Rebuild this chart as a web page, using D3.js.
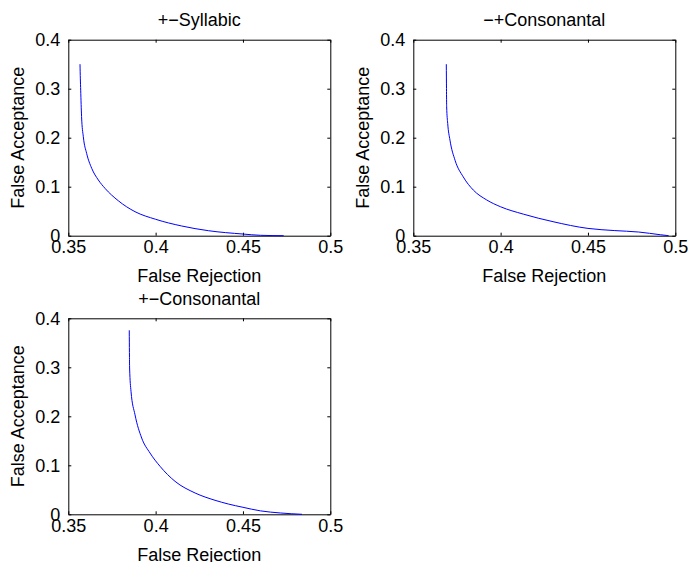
<!DOCTYPE html>
<html>
<head>
<meta charset="utf-8">
<script src="https://cdn.jsdelivr.net/npm/d3@7"></script>
<style>
  body { margin: 0; background: #fff; }
  text { font-family: "Liberation Sans", Arial, sans-serif; }
</style>
</head>
<body>
<div id="svg-area"></div>
<script>
// chart data
var xTicks = [0.35, 0.4, 0.45, 0.5];
var yTicks = [0, 0.1, 0.2, 0.3, 0.4];

var titles = ["+\u2212Syllabic", "\u2212+Consonantal", "+\u2212Consonantal"];

var syllabicFR = [0.3567, 0.3569, 0.3571, 0.3576, 0.3586, 0.3605, 0.3634, 0.3672, 0.3710, 0.3786, 0.3882, 0.4000, 0.4149, 0.4302, 0.4500, 0.4600, 0.4733];
var syllabicFA = [0.350, 0.320, 0.297, 0.243, 0.202, 0.168, 0.1375, 0.1137, 0.0967, 0.0714, 0.049, 0.0335, 0.0198, 0.0102, 0.0034, 0.0008, 0.0];

var consMinusFR = [0.3689, 0.3690, 0.3691, 0.3697, 0.3710, 0.3739, 0.3786, 0.3844, 0.3920, 0.4000, 0.4130, 0.4300, 0.4500, 0.4650, 0.4790, 0.4914, 0.4962];
var consMinusFA = [0.350, 0.300, 0.263, 0.229, 0.195, 0.154, 0.120, 0.093, 0.073, 0.059, 0.044, 0.0286, 0.0149, 0.0105, 0.0075, 0.002, 0.0];

var consPlusFR = [0.3849, 0.3850, 0.3851, 0.3859, 0.3882, 0.3920, 0.3968, 0.4025, 0.4111, 0.4226, 0.4340, 0.4416, 0.4500, 0.4600, 0.4714, 0.4838];
var consPlusFA = [0.3755, 0.330, 0.2986, 0.251, 0.203, 0.1557, 0.125, 0.098, 0.0673, 0.0435, 0.0286, 0.021, 0.0143, 0.007, 0.0027, 0.0];

var series = [
  { fr: syllabicFR, fa: syllabicFA },
  { fr: consMinusFR, fa: consMinusFA },
  { fr: consPlusFR, fa: consPlusFA }
];

// layout of the subplots
var svgWidth = 689;
var svgHeight = 562;
var width = 262;
var height = 196;
var offsets = [[68.3, 39.7], [413.3, 39.7], [68.3, 318.3]];

var svg = d3.select("#svg-area")
  .append("svg")
  .attr("width", svgWidth)
  .attr("height", svgHeight);

var xScale = d3.scaleLinear().domain([0.35, 0.5]).range([0, width]);
var yScale = d3.scaleLinear().domain([0, 0.4]).range([height, 0]);

var line = d3.line()
  .curve(d3.curveMonotoneX)
  .x(d => xScale(d[0]))
  .y(d => yScale(d[1]));

series.forEach(function(s, i) {
  var g = svg.append("g")
    .attr("transform", `translate(${offsets[i][0]}, ${offsets[i][1]})`);

  // Step 1: axes, ticks pointing inward on all four sides
  g.append("g")
    .attr("transform", `translate(0, ${height})`)
    .call(d3.axisBottom(xScale).tickValues(xTicks).tickSize(-3).tickSizeOuter(0).tickPadding(4.5).tickFormat(d => String(d)));
  g.append("g")
    .call(d3.axisLeft(yScale).tickValues(yTicks).tickSize(-3).tickSizeOuter(0).tickPadding(8).tickFormat(d => String(d)));
  g.append("g")
    .call(d3.axisTop(xScale).tickValues(xTicks).tickSize(-3).tickSizeOuter(0).tickFormat(""));
  g.append("g")
    .attr("transform", `translate(${width}, 0)`)
    .call(d3.axisRight(yScale).tickValues(yTicks).tickSize(-3).tickSizeOuter(0).tickFormat(""));

  g.selectAll(".domain, .tick line").attr("stroke", "#000").attr("stroke-width", 1);
  g.selectAll(".tick text")
    .attr("font-size", 18)
    .attr("font-family", "'Liberation Sans', Arial, sans-serif")
    .attr("fill", "#000");

  // Step 2: the curve
  var pts = s.fr.map((v, k) => [v, s.fa[k]]);
  g.append("path")
    .datum(pts)
    .attr("fill", "none")
    .attr("stroke", "#0000ff")
    .attr("stroke-width", 1)
    .attr("d", line);

  // Step 3: labels
  g.append("text")
    .attr("x", width / 2)
    .attr("y", -13.7)
    .attr("text-anchor", "middle")
    .attr("font-size", 18)
    .text(titles[i]);

  g.append("text")
    .attr("x", width / 2)
    .attr("y", height + 46.3)
    .attr("text-anchor", "middle")
    .attr("font-size", 18)
    .text("False Rejection");

  g.append("text")
    .attr("transform", `translate(${-44}, ${height / 2}) rotate(-90)`)
    .attr("text-anchor", "middle")
    .attr("font-size", 18)
    .text("False Acceptance");
});
</script>
</body>
</html>
